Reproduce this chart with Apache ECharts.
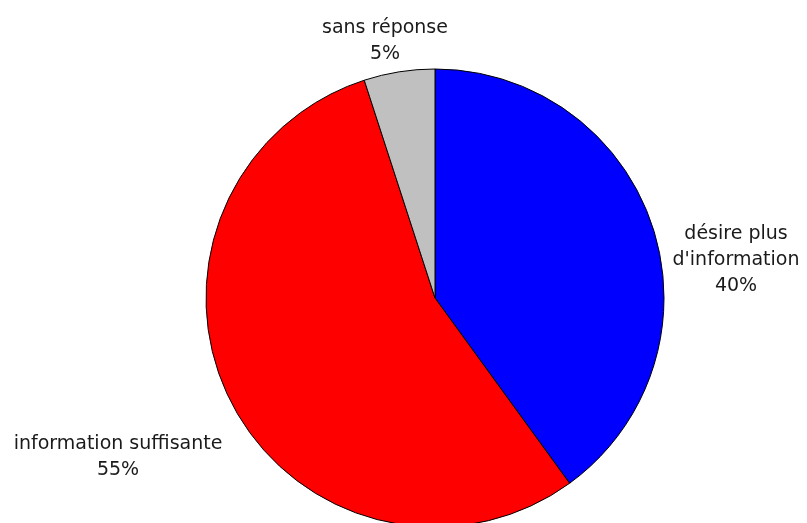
<!DOCTYPE html>
<html><head><meta charset="utf-8">
<script src="https://cdn.jsdelivr.net/npm/echarts@6/dist/echarts.min.js"></script>
<style>html,body{margin:0;padding:0;background:#fff}#c{width:807px;height:523px}</style>
</head><body><div id="c"></div>
<script>
const categories = ["désire plus\nd'information", "information suffisante", "sans réponse"];
const values = [40, 55, 5];
const colors = ['#0000ff', '#ff0000', '#c0c0c0'];
const labelPos = [[736, 260], [118, 457], [385, 41]];

const chart = echarts.init(document.getElementById('c'));
chart.setOption({
  animation: false,
  series: [{
    type: 'pie',
    center: [435, 298],
    radius: 229,
    startAngle: 90,
    clockwise: true,
    data: categories.map((n, i) => ({ name: n, value: values[i], itemStyle: { color: colors[i] } })),
    itemStyle: { borderColor: '#000', borderWidth: 1 },
    label: {
      show: true,
      position: 'outside',
      formatter: p => p.name + '\n' + p.value + '%',
      fontFamily: 'DejaVu Sans',
      fontSize: 19,
      lineHeight: 26,
      color: '#1a1a1a',
      align: 'center',
      overflow: 'none',
      width: 300
    },
    labelLine: { show: false },
    labelLayout: p => ({ x: labelPos[p.dataIndex][0], y: labelPos[p.dataIndex][1], align: 'center', verticalAlign: 'middle', width: 300 }),
    emphasis: { disabled: true }
  }]
});
</script></body></html>
